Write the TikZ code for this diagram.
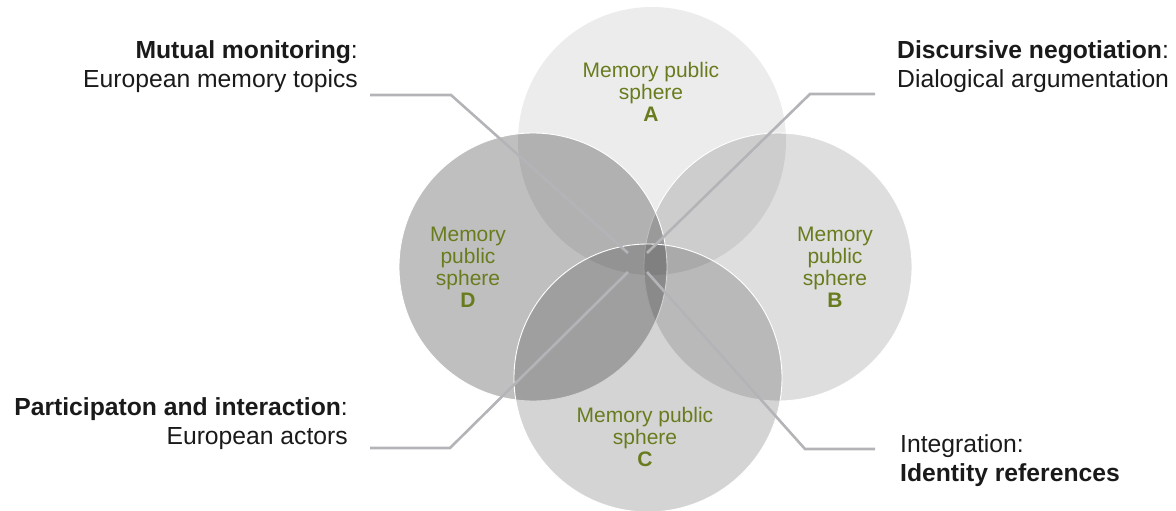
\documentclass[tikz,border=0pt]{standalone}
\usepackage{fontspec}
\setmainfont{Liberation Sans}
\definecolor{lblgreen}{RGB}{104,124,30}
\definecolor{txt}{RGB}{26,26,26}
\definecolor{linegray}{RGB}{180,180,184}
\begin{document}
\begin{tikzpicture}[x=1pt,y=-1pt,
  sphere/.style={circle, minimum size=268pt, inner sep=0pt, draw=white, line width=0.9pt, fill=black},
  lbl/.style={text=lblgreen, font=\fontsize{21}{22}\selectfont, align=center, inner sep=0pt, anchor=north},
  captxt/.style={font=\fontsize{24.7}{29}\selectfont, inner sep=0pt, text=txt},
  conn/.style={draw=linegray, line width=2.6pt}
]
\useasboundingbox (0,0) rectangle (1176,511);
% spheres
\node[sphere, fill opacity=0.075, draw=none] (A) at (652,141) {};
\node[sphere, fill opacity=0.13] (B) at (778,267) {};
\node[sphere, fill opacity=0.25] (D) at (533,267) {};
\node[sphere, fill opacity=0.17] (C) at (648,378) {};
% sphere labels
\node[lbl] (la) at (651,61.7) {Memory public\\sphere\\\textbf{A}};
\node[lbl] (lb) at (835,226.7) {Memory\\public\\sphere\\\textbf{B}};
\node[lbl] (ld) at (468,226.7) {Memory\\public\\sphere\\\textbf{D}};
\node[lbl] (lc) at (645,406.7) {Memory public\\sphere\\\textbf{C}};
% outer labels
\node[captxt, anchor=north east, align=right] (mm) at (358,40) {\textbf{Mutual monitoring}:\\European memory topics};
\node[captxt, anchor=north west, align=left] (dn) at (897,40) {\textbf{Discursive negotiation}:\\Dialogical argumentation};
\node[captxt, anchor=north east, align=right] (pi) at (348,397) {\textbf{Participaton and interaction}:\\European actors};
\node[captxt, anchor=north west, align=left] (ir) at (900,434) {Integration:\\\textbf{Identity references}};
% connector coordinates
\coordinate (mmS) at (370,95);  \coordinate (mmB) at (451,95);  \coordinate (mmE) at (628,253);
\coordinate (dnS) at (875,94);  \coordinate (dnB) at (810,94);  \coordinate (dnE) at (647,253);
\coordinate (piS) at (370,448); \coordinate (piB) at (450,448); \coordinate (piE) at (628,272);
\coordinate (irS) at (875,449); \coordinate (irB) at (805,449); \coordinate (irE) at (647,272);
\draw[conn] (mmS) -- (mmB) -- (mmE);
\draw[conn] (dnS) -- (dnB) -- (dnE);
\draw[conn] (piS) -- (piB) -- (piE);
\draw[conn] (irS) -- (irB) -- (irE);
\end{tikzpicture}
\end{document}
